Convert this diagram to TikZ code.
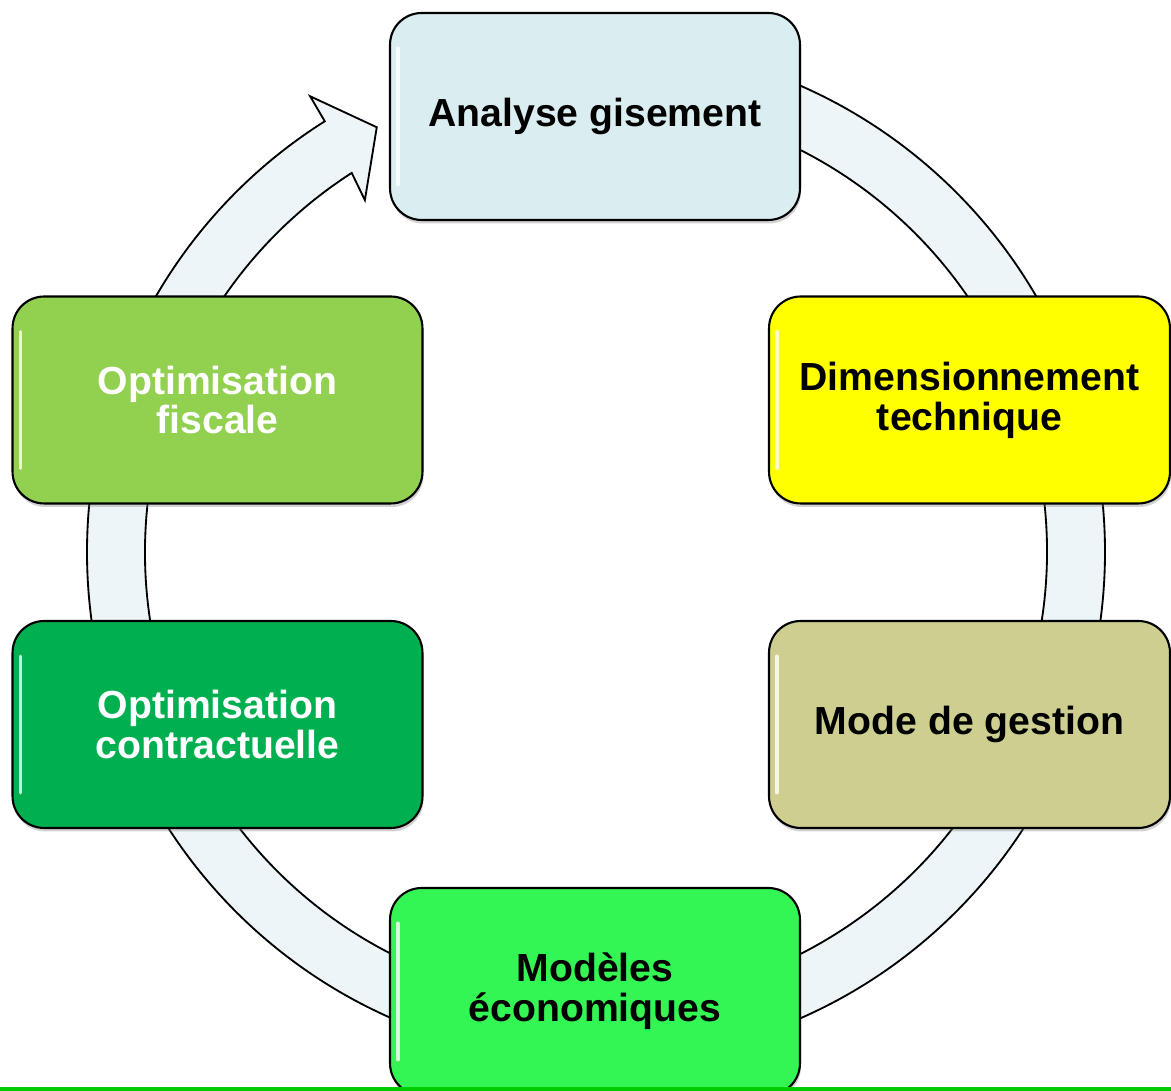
\documentclass[tikz,border=0pt]{standalone}
\usepackage{fontspec}
\setmainfont{Liberation Sans}
\usetikzlibrary{shadows}

\definecolor{ringfill}{RGB}{238,245,248}
\definecolor{cgisement}{RGB}{218,237,241}
\definecolor{cdimension}{RGB}{255,255,0}
\definecolor{cgestion}{RGB}{205,206,143}
\definecolor{cmodeles}{RGB}{51,246,84}
\definecolor{ccontrat}{RGB}{0,176,80}
\definecolor{cfiscal}{RGB}{146,208,80}
\definecolor{cbar}{RGB}{0,204,0}

\tikzset{
	stage/.style={draw=black, line width=1.2pt, rounded corners=18pt,
		minimum width=8.2cm, minimum height=4.14cm, align=center,
		font={\fontsize{22.3}{22.7}\selectfont\bfseries},
		drop shadow={shadow xshift=0.6pt, shadow yshift=-2pt, opacity=0.35},
		path picture={\draw[white, opacity=0.8, line width=1.8pt, line cap=round]
			([xshift=4.5pt, yshift=-20pt]path picture bounding box.north west) --
			([xshift=4.5pt, yshift=20pt]path picture bounding box.south west);}},
	narrow/.style={minimum width=8.02cm},
	ring/.style={draw=black, line width=1.05pt, fill=ringfill, line join=miter}
}

\begin{document}
\begin{tikzpicture}[x=0.02cm, y=0.02cm]
\clip (0,0) rectangle (1171,1091);
\fill[white] (0,0) rectangle (1171,1091);

% ring with arrow head
\draw[ring, shift={(596,539)}]
	(90:509) arc[start angle=90, end angle=-237.8, radius=509]
	-- (-237.9:538) -- (-242.7:478) -- (-236.7:421) -- (-237.2:451)
	arc[start angle=-237.2, end angle=90, radius=451] -- cycle;

\path
	(595,974.5) node[stage, fill=cgisement] (gisement) {Analyse gisement}
	(969.5,691) node[stage, narrow, fill=cdimension] (dimension) {Dimensionnement\\technique}
	(969.5,366.5) node[stage, narrow, fill=cgestion] (gestion) {Mode de gestion}
	(595,99.5) node[stage, fill=cmodeles] (modeles) {Modèles\\économiques}
	(217.5,366.5) node[stage, fill=ccontrat, text=white] (contrat) {Optimisation\\contractuelle}
	(217.5,691) node[stage, fill=cfiscal, text=white] (fiscal) {Optimisation\\fiscale}
	;

\fill[cbar] (0,0) rectangle (1171,4);
\end{tikzpicture}
\end{document}
